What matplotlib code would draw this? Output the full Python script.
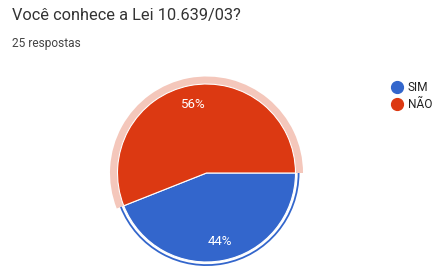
import matplotlib.pyplot as plt
from matplotlib.lines import Line2D

title = "Você conhece a Lei 10.639/03?"
subtitle = "25 respostas"
labels = ["SIM", "NÃO"]
values = [11, 14]
colors = ["#3366cc", "#dc3912"]

plt.rcParams['font.family'] = ['Roboto', 'DejaVu Sans']

W, H = 433, 266
fig = plt.figure(figsize=(W / 100, H / 100), dpi=100)
ax = fig.add_axes([0, 0, 1, 1])

# pie in pixel coordinates (y up)
cx, cy, r = 206.5, 93, 89

wedges, texts, autotexts = ax.pie(values, colors=colors, startangle=0, counterclock=False,
                                  center=(cx, cy), radius=r, autopct='%1.0f%%', pctdistance=0.78,
                                  wedgeprops=dict(linewidth=0.8, edgecolor='white'),
                                  textprops=dict(color='white', fontsize=9.5))

# hover ring on NÃO, selection ring on SIM
ax.pie(values, colors=['none', '#f4c7bb'], startangle=0, counterclock=False,
       center=(cx, cy), radius=r + 7.5, wedgeprops=dict(width=7, linewidth=0))
ax.pie(values, colors=['#3366cc', 'none'], startangle=0, counterclock=False,
       center=(cx, cy), radius=r + 4, wedgeprops=dict(width=1.8, linewidth=0))

ax.set_xlim(0, W)
ax.set_ylim(0, H)
ax.set_aspect('equal')
ax.axis('off')

fig.text(12 / W, 1 - 20 / H, title, fontsize=11.8, color='#333333', va='baseline')
fig.text(12 / W, 1 - 47 / H, subtitle, fontsize=8.6, color='#444444', va='baseline')

handles = [Line2D([], [], marker='o', linestyle='none', markersize=8.5,
                  markerfacecolor=c, markeredgecolor=c) for c in colors]
fig.legend(handles, labels, loc='upper left', bbox_to_anchor=(391 / W, 1 - 81 / H),
           frameon=False, fontsize=8.6, handletextpad=0.4, labelspacing=0.35,
           borderaxespad=0, borderpad=0, handlelength=1.0, labelcolor='#222222')

fig.savefig("out.png", dpi=100)
